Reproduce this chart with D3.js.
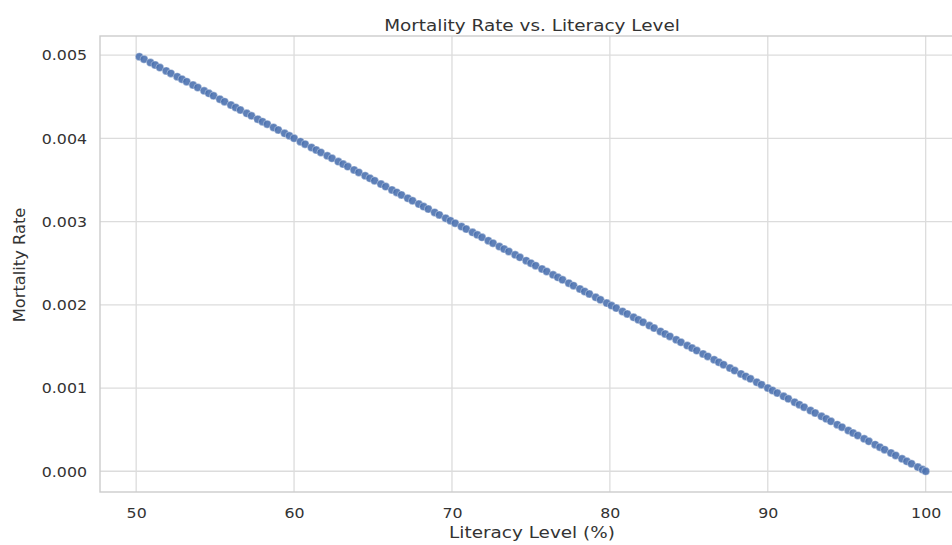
<!DOCTYPE html>
<html>
<head>
<meta charset="utf-8">
<script src="https://cdn.jsdelivr.net/npm/d3@7"></script>
<style>
  body { margin: 0; background: #fff; }
  text { font-family: "DejaVu Sans", sans-serif; fill: #333333; }
</style>
</head>
<body>
<svg id="chart" width="952" height="545"></svg>
<script>
// literacy level (%) of each observation
const literacy = [
  50.2, 50.5, 50.9, 51.2, 51.5, 51.9, 52.2, 52.6, 52.9, 53.2,
  53.6, 53.9, 54.3, 54.6, 54.9, 55.3, 55.6, 56.0, 56.3, 56.6,
  57.0, 57.3, 57.7, 58.0, 58.3, 58.7, 59.0, 59.4, 59.7,
  60.0, 60.4, 60.7, 61.1, 61.4, 61.7, 62.1, 62.4, 62.8, 63.1,
  63.4, 63.8, 64.1, 64.5, 64.8, 65.1, 65.5, 65.8, 66.2, 66.5,
  66.8, 67.2, 67.5, 67.9, 68.2, 68.5, 68.9, 69.2, 69.6, 69.9,
  70.2, 70.6, 70.9, 71.3, 71.6, 71.9, 72.3, 72.6, 73.0, 73.3,
  73.6, 74.0, 74.3, 74.7, 75.0, 75.3, 75.7, 76.0, 76.4, 76.7,
  77.0, 77.4, 77.7, 78.1, 78.4, 78.7, 79.1, 79.4, 79.8,
  80.1, 80.4, 80.8, 81.1, 81.5, 81.8, 82.1, 82.5, 82.8, 83.2,
  83.5, 83.8, 84.2, 84.5, 84.9, 85.2, 85.5, 85.9, 86.2, 86.6,
  86.9, 87.2, 87.6, 87.9, 88.3, 88.6, 88.9, 89.3, 89.6,
  90.0, 90.3, 90.6, 91.0, 91.3, 91.7, 92.0, 92.3, 92.7, 93.0,
  93.4, 93.7, 94.0, 94.4, 94.7, 95.1, 95.4, 95.7, 96.1, 96.4,
  96.8, 97.1, 97.4, 97.8, 98.1, 98.5, 98.8, 99.1, 99.5, 99.8, 100.0
];

// mortality rate of each observation
const mortality = [
  0.00498, 0.00495, 0.00491, 0.00488, 0.00485, 0.00481, 0.00478, 0.00474, 0.00471, 0.00468,
  0.00464, 0.00461, 0.00457, 0.00454, 0.00451, 0.00447, 0.00444, 0.00440, 0.00437, 0.00434,
  0.00430, 0.00427, 0.00423, 0.00420, 0.00417, 0.00413, 0.00410, 0.00406, 0.00403,
  0.00400, 0.00396, 0.00393, 0.00389, 0.00386, 0.00383, 0.00379, 0.00376, 0.00372, 0.00369,
  0.00366, 0.00362, 0.00359, 0.00355, 0.00352, 0.00349, 0.00345, 0.00342, 0.00338, 0.00335,
  0.00332, 0.00328, 0.00325, 0.00321, 0.00318, 0.00315, 0.00311, 0.00308, 0.00304, 0.00301,
  0.00298, 0.00294, 0.00291, 0.00287, 0.00284, 0.00281, 0.00277, 0.00274, 0.00270, 0.00267,
  0.00264, 0.00260, 0.00257, 0.00253, 0.00250, 0.00247, 0.00243, 0.00240, 0.00236, 0.00233,
  0.00230, 0.00226, 0.00223, 0.00219, 0.00216, 0.00213, 0.00209, 0.00206, 0.00202,
  0.00199, 0.00196, 0.00192, 0.00189, 0.00185, 0.00182, 0.00179, 0.00175, 0.00172, 0.00168,
  0.00165, 0.00162, 0.00158, 0.00155, 0.00151, 0.00148, 0.00145, 0.00141, 0.00138, 0.00134,
  0.00131, 0.00128, 0.00124, 0.00121, 0.00117, 0.00114, 0.00111, 0.00107, 0.00104,
  0.00100, 0.00097, 0.00094, 0.00090, 0.00087, 0.00083, 0.00080, 0.00077, 0.00073, 0.00070,
  0.00066, 0.00063, 0.00060, 0.00056, 0.00053, 0.00049, 0.00046, 0.00043, 0.00039, 0.00036,
  0.00032, 0.00029, 0.00026, 0.00022, 0.00019, 0.00015, 0.00012, 0.00009, 0.00005, 0.00002, 0.00000
];

const xTicks = [50, 60, 70, 80, 90, 100];
const yTicks = [0, 0.001, 0.002, 0.003, 0.004, 0.005];

const points = literacy.map((l, i) => ({ literacy: l, mortality: mortality[i] }));

const svg = d3.select("#chart");
const margin = { top: 36, right: -13, bottom: 53, left: 100 };
const width = 952 - margin.left - margin.right;
const height = 545 - margin.top - margin.bottom;
const stretch = 1.13; // the picture's text is a little wide

const g = svg.append("g").attr("transform", `translate(${margin.left},${margin.top})`);

// seaborn style padding of 5% on each side
const xPad = (d3.max(literacy) - d3.min(literacy)) * 0.05;
const yPad = (d3.max(mortality) - d3.min(mortality)) * 0.05;

const x = d3.scaleLinear()
  .domain([d3.min(literacy) - xPad, d3.max(literacy) + xPad])
  .range([0, width]);

const y = d3.scaleLinear()
  .domain([d3.min(mortality) - yPad, d3.max(mortality) + yPad])
  .range([height, 0]);

// grid
g.append("g").selectAll("line").data(xTicks).join("line")
  .attr("x1", d => x(d)).attr("x2", d => x(d))
  .attr("y1", 0).attr("y2", height)
  .style("stroke", "#dcdcdc").style("stroke-width", 1.3);

g.append("g").selectAll("line").data(yTicks).join("line")
  .attr("x1", 0).attr("x2", width)
  .attr("y1", d => y(d)).attr("y2", d => y(d))
  .style("stroke", "#dcdcdc").style("stroke-width", 1.3);

// axes, no tick marks
const xAxis = g.append("g")
  .attr("transform", `translate(0,${height})`)
  .call(d3.axisBottom(x).tickValues(xTicks).tickSize(0).tickPadding(0).tickFormat(d3.format("d")));

const yAxis = g.append("g")
  .call(d3.axisLeft(y).tickValues(yTicks).tickSize(0).tickPadding(0).tickFormat(d3.format(".3f")));

xAxis.select(".domain").remove();
yAxis.select(".domain").remove();

xAxis.selectAll("text")
  .attr("y", 0).attr("dy", 0)
  .attr("transform", `translate(0,26) scale(${stretch},1)`)
  .style("font-size", "14px").style("fill", "#333333");

yAxis.selectAll("text")
  .attr("x", 0).attr("dy", "0.35em")
  .attr("transform", `translate(-13,0) scale(${stretch},1)`)
  .style("font-size", "14px").style("fill", "#333333");

// spines
g.append("rect")
  .attr("x", 0).attr("y", 0)
  .attr("width", width).attr("height", height)
  .style("fill", "none")
  .style("stroke", "#cccccc")
  .style("stroke-width", 1.4);

// scatter points
g.append("g").selectAll("circle").data(points).join("circle")
  .attr("cx", d => x(d.literacy))
  .attr("cy", d => y(d.mortality))
  .attr("r", 4)
  .style("fill", "#4c72b0")
  .style("fill-opacity", 0.9)
  .style("stroke", "#ffffff")
  .style("stroke-opacity", 0.6)
  .style("stroke-width", 0.6);

// title and labels
svg.append("text")
  .attr("transform", `translate(532,31) scale(${stretch},1)`)
  .attr("text-anchor", "middle")
  .style("font-size", "16.3px")
  .text("Mortality Rate vs. Literacy Level");

svg.append("text")
  .attr("transform", `translate(532,538) scale(${stretch},1)`)
  .attr("text-anchor", "middle")
  .style("font-size", "16.3px")
  .text("Literacy Level (%)");

svg.append("text")
  .attr("transform", `translate(25,265) rotate(-90)`)
  .attr("text-anchor", "middle")
  .style("font-size", "16.3px")
  .text("Mortality Rate");
</script>
</body>
</html>
